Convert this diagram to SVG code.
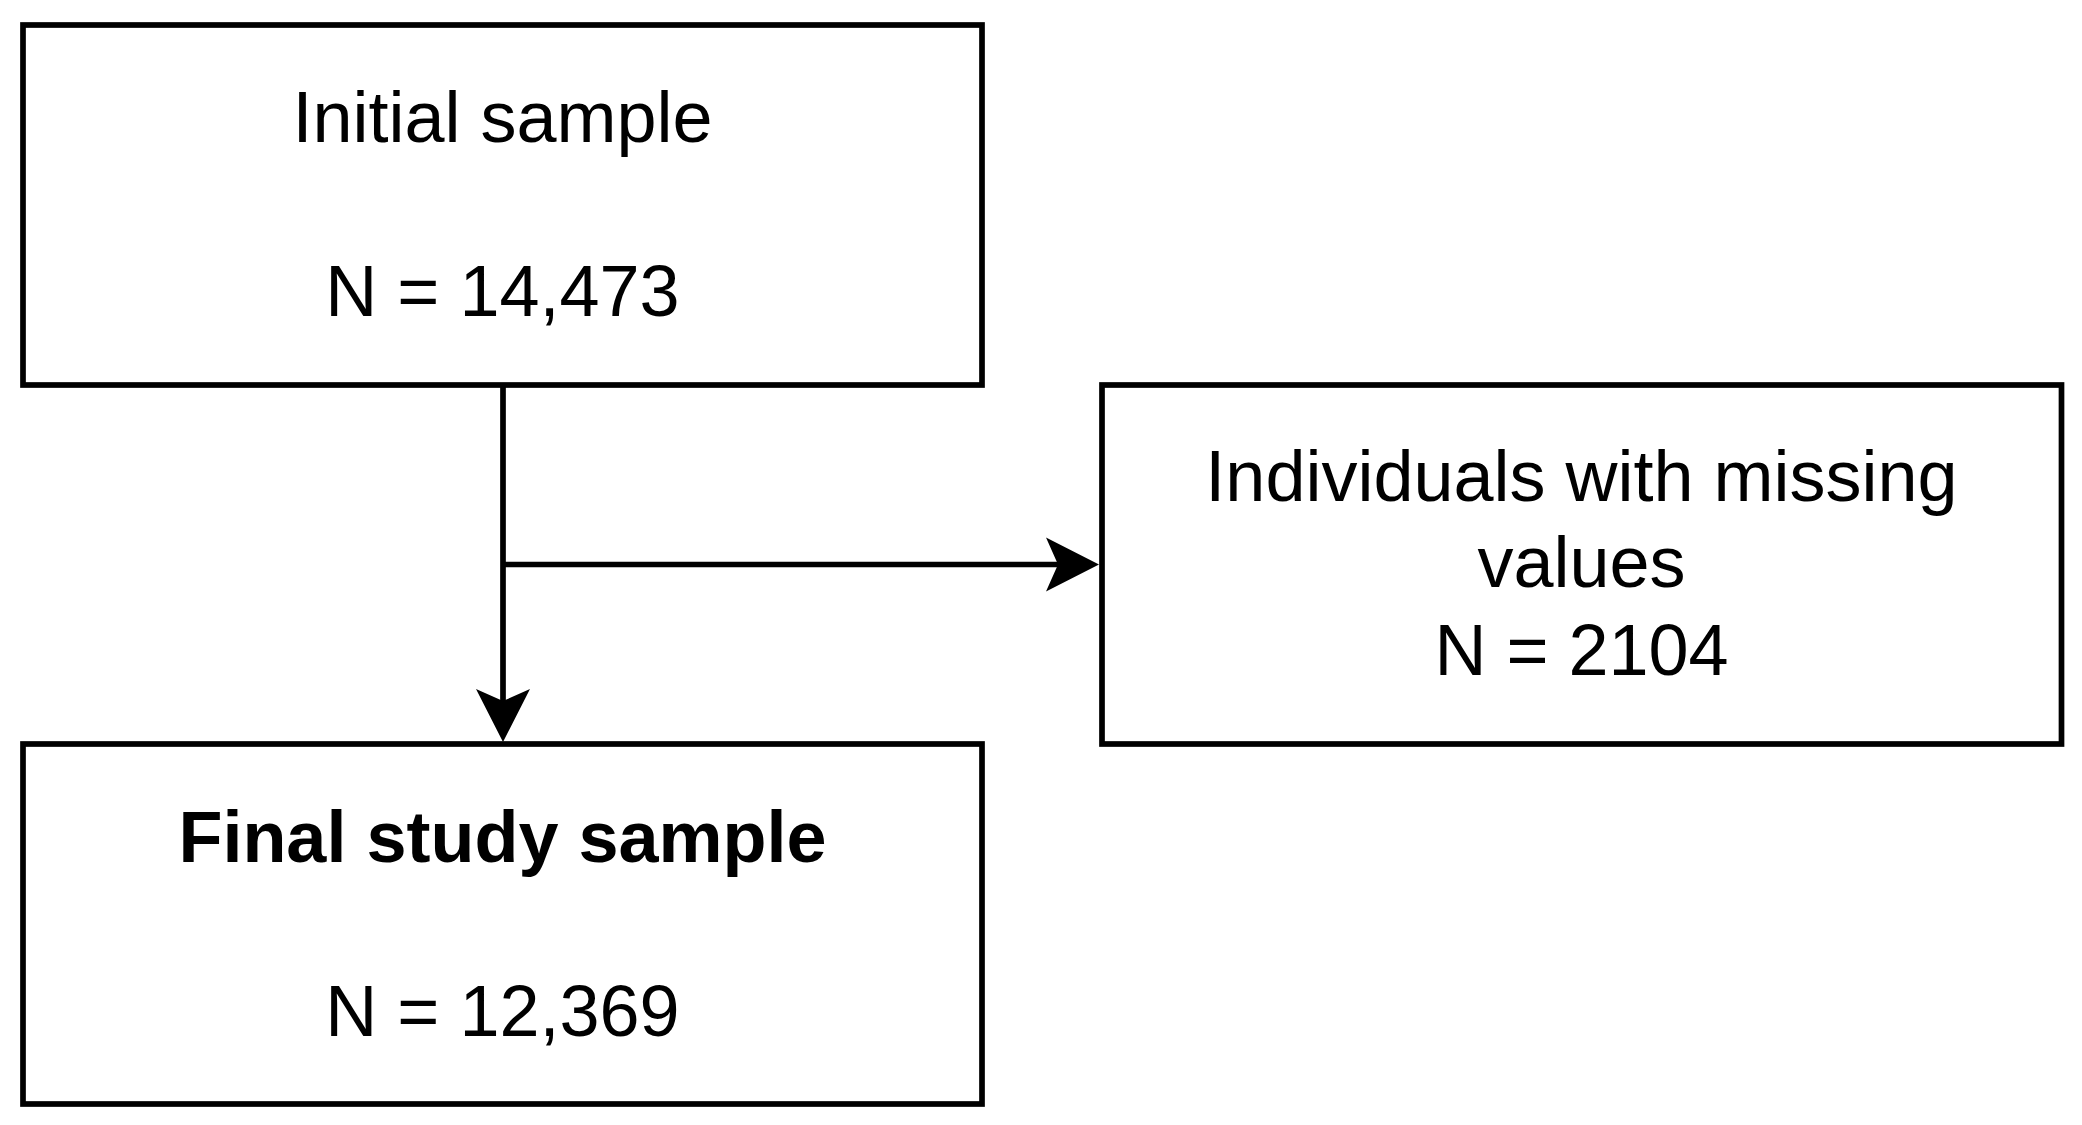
<svg xmlns="http://www.w3.org/2000/svg" width="2082" height="1125" viewBox="0 0 2082 1125">
  <style>
    .box { fill: #ffffff; stroke: #000000; stroke-width: 5.7; }
    .lbl { font-family: "Liberation Sans", Arial, sans-serif; font-size: 72px; fill: #000000; text-anchor: middle; }
    .bold { font-weight: bold; }
    .line { fill: none; stroke: #000000; stroke-width: 5.7; }
    .head { fill: #000000; stroke: none; }
  </style>
  <rect x="0" y="0" width="2082" height="1125" fill="#ffffff"/>
  <g id="connectors">
    <path class="line" d="M503,385 L503,704"/>
    <path class="head" d="M503,742 L476,689 L503,701 L530,689 Z"/>
    <path class="line" d="M503,564.5 L1061,564.5"/>
    <path class="head" d="M1099,564.5 L1046,537.5 L1058,564.5 L1046,591.5 Z"/>
  </g>
  <g id="node-initial">
    <rect class="box" x="23" y="25" width="959" height="360"/>
    <text class="lbl" x="502.5" y="142">Initial sample</text>
    <text class="lbl" x="502.5" y="316">N = 14,473</text>
  </g>
  <g id="node-missing">
    <rect class="box" x="1102" y="385" width="959.5" height="359"/>
    <text class="lbl" x="1581.5" y="501">Individuals with missing</text>
    <text class="lbl" x="1581.5" y="587">values</text>
    <text class="lbl" x="1581.5" y="675">N = 2104</text>
  </g>
  <g id="node-final">
    <rect class="box" x="23" y="744" width="959" height="360"/>
    <text class="lbl bold" x="502.5" y="862">Final study sample</text>
    <text class="lbl" x="502.5" y="1036">N = 12,369</text>
  </g>
</svg>
